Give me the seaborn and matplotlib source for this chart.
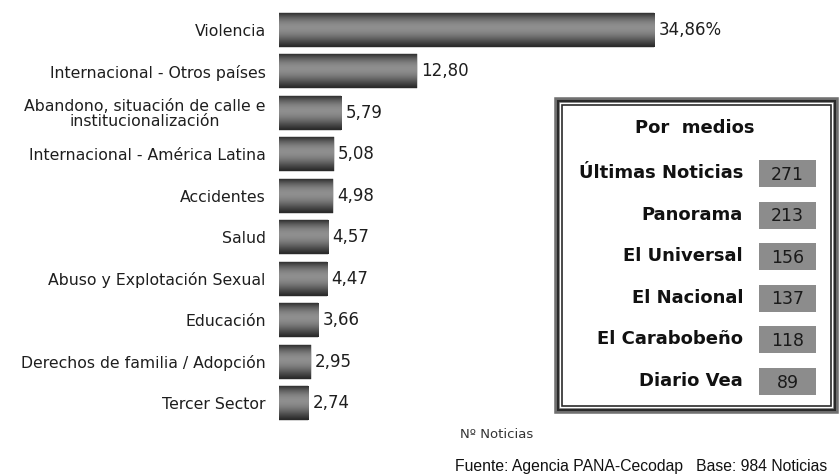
import numpy as np
import matplotlib
matplotlib.use("Agg")
import matplotlib.pyplot as plt
from matplotlib.patches import Rectangle
import seaborn as sns

# data
categories = [
    "Violencia",
    "Internacional - Otros países",
    "Abandono, situación de calle e\ninstitucionalización",
    "Internacional - América Latina",
    "Accidentes",
    "Salud",
    "Abuso y Explotación Sexual",
    "Educación",
    "Derechos de familia / Adopción",
    "Tercer Sector",
]
values = [34.86, 12.80, 5.79, 5.08, 4.98, 4.57, 4.47, 3.66, 2.95, 2.74]

medios = ["Últimas Noticias", "Panorama", "El Universal", "El Nacional",
          "El Carabobeño", "Diario Vea"]
noticias = [271, 213, 156, 137, 118, 89]

sns.set_style("white")
plt.rcParams["font.family"] = ["DejaVu Sans"]

W, H = 839, 475
fig = plt.figure(figsize=(W / 100, H / 100), dpi=100)

# main bar chart
ax = fig.add_axes([279 / W, 51 / H, 538 / W, 415 / H])
sns.barplot(x=values, y=categories, orient="h", color="#666666", width=0.82, ax=ax)

# cylinder-like grey gradient on each bar (dark edges, lighter band above middle)
t = np.linspace(0, 1, 64)
shade = 0.16 + 0.40 * np.sin(np.pi * t ** 0.85) ** 1.2
grad = np.stack([shade] * 3, axis=-1)[:, None, :]
for p in ax.patches:
    x0, y0 = p.get_x(), p.get_y()
    w, h = p.get_width(), p.get_height()
    p.set_facecolor("none")
    p.set_edgecolor("#2a2a2a")
    p.set_linewidth(0.3)
    im = ax.imshow(grad, extent=(x0, x0 + w, y0 + h, y0), aspect="auto",
                   interpolation="bilinear", zorder=1)
    im.set_clip_path(p)

ax.set_xlim(0, 50)
ax.set_ylim(9.5, -0.5)
ax.set_aspect("auto")
sns.despine(ax=ax, left=True, bottom=True)
ax.set_xticks([])
ax.set_xlabel("")
ax.tick_params(axis="y", length=0, pad=9.5, labelsize=11.3, labelcolor="#1e1e1e")
for lab in ax.get_yticklabels():
    lab.set_multialignment("center")
    lab.set_linespacing(1.0)

labels = [f"{v:.2f}".replace(".", ",") for v in values]
labels[0] += "%"
ax.bar_label(ax.containers[0], labels=labels, padding=3, fontsize=12, color="#1e1e1e")

# "Por medios" box
bx = fig.add_axes([557 / W, (H - 411) / H, 279 / W, 311 / H])
bx.set_xlim(0, 279)
bx.set_ylim(311, 0)
bx.axis("off")
bx.add_patch(Rectangle((0, 0), 279, 311, fill=False, lw=4, ec="#707070", clip_on=False))
bx.add_patch(Rectangle((1, 1), 277, 309, fill=False, lw=1.5, ec="#2a2a2a", clip_on=False))
bx.add_patch(Rectangle((5, 5), 269, 301, fill=False, lw=1.2, ec="#2a2a2a"))
bx.text(138, 28, "Por  medios", ha="center", va="center", fontsize=13,
        fontweight="bold", color="#111111")
for i, (m, n) in enumerate(zip(medios, noticias)):
    yc = 73 + 41.6 * i
    bx.text(186, yc, m, ha="right", va="center", fontsize=13,
            fontweight="bold", color="#111111")
    bx.add_patch(Rectangle((202, yc - 13), 57, 27, fc="#8c8c8c", ec="none"))
    bx.text(230.5, yc + 1.5, str(n), ha="center", va="center", fontsize=12.5,
            color="#1a1a1a")

fig.text(497 / W, 1 - 434 / H, "Nº Noticias", ha="center", va="center",
         fontsize=9.5, color="#333333")
fig.text(455 / W, 1 - 466 / H, "Fuente: Agencia PANA-Cecodap   Base: 984 Noticias",
         ha="left", va="center", fontsize=11.3, color="#111111",
         family="Liberation Sans")

fig.savefig("out.png", dpi=100)
